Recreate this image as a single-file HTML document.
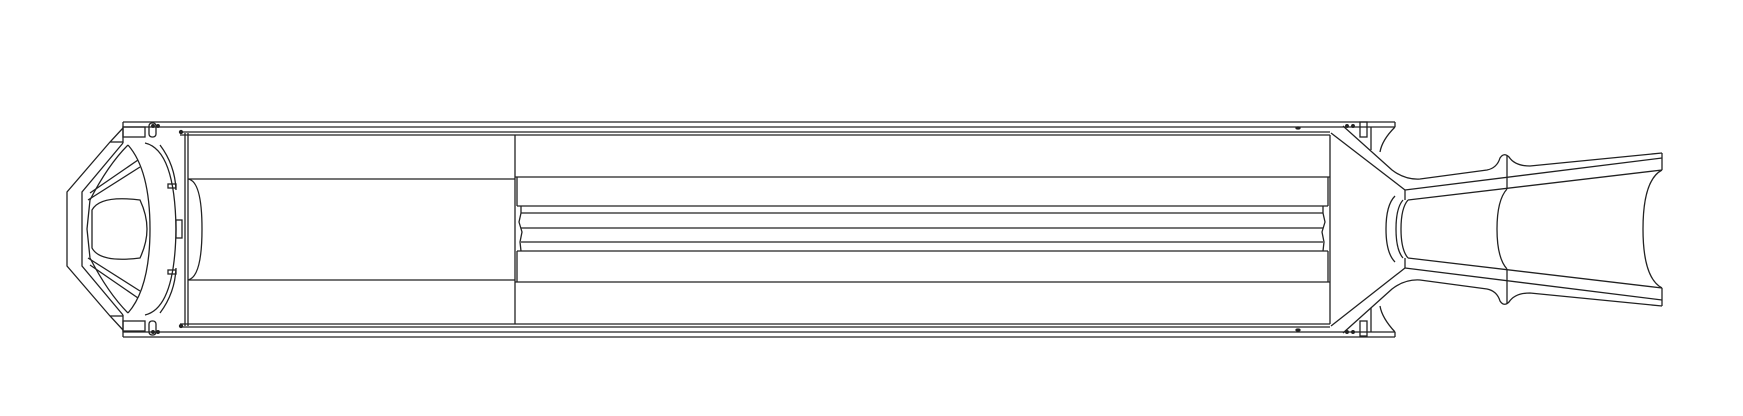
<!DOCTYPE html>
<html><head><style>html,body{margin:0;padding:0;background:#fff}svg{display:block}</style></head><body>
<svg width="1743" height="416" viewBox="0 0 1743 416" xmlns="http://www.w3.org/2000/svg" fill="none" stroke="#222" stroke-width="1.3">
<!-- outer shell -->
<line x1="123" y1="122" x2="1395" y2="122"/><line x1="123" y1="127" x2="1395" y2="127"/>
<line x1="123" y1="337" x2="1395" y2="337"/><line x1="123" y1="332" x2="1395" y2="332"/>
<line x1="123" y1="122" x2="123" y2="143"/><line x1="123" y1="315" x2="123" y2="337"/>
<line x1="1395" y1="122" x2="1395" y2="127"/><line x1="1395" y1="332" x2="1395" y2="337"/>
<!-- inner tube -->
<line x1="180" y1="132" x2="1330" y2="132"/><line x1="180" y1="135" x2="1330" y2="135"/>
<line x1="180" y1="324" x2="1330" y2="324"/><line x1="180" y1="327" x2="1330" y2="327"/>
<line x1="185" y1="133" x2="185" y2="326"/><line x1="188" y1="133" x2="188" y2="326"/>
<!-- left section -->
<line x1="188" y1="179" x2="515" y2="179"/><line x1="188" y1="280" x2="515" y2="280"/>
<path d="M188,179 Q202,181 202,229 Q202,277 188,280"/>
<line x1="515" y1="135" x2="515" y2="324"/>
<!-- middle bands -->
<line x1="515" y1="177" x2="1330" y2="177"/><line x1="515" y1="282" x2="1330" y2="282"/>
<line x1="517" y1="177" x2="517" y2="206"/><line x1="517" y1="251" x2="517" y2="282"/>
<line x1="1328" y1="177" x2="1328" y2="206"/><line x1="1328" y1="251" x2="1328" y2="282"/>
<line x1="517" y1="206" x2="1328" y2="206"/><line x1="517" y1="251" x2="1328" y2="251"/>
<line x1="521" y1="213" x2="1323" y2="213"/><line x1="521" y1="228" x2="1323" y2="228"/>
<line x1="521" y1="242" x2="1323" y2="242"/>
<path d="M521,206 L521,213 L519,222 L522,232 L520,242 L521,251"/>
<path d="M1323,206 L1323,213 L1325,222 L1322,232 L1324,242 L1323,251"/>
<line x1="1330" y1="135" x2="1330" y2="324"/>
<!-- left nose cone -->
<path d="M123,128 L110,142 L67,192 L67,266 L110,316 L123,330"/>
<line x1="110" y1="142" x2="123" y2="142"/><line x1="110" y1="316" x2="123" y2="316"/>
<path d="M123,143 L82,192 L82,266 L123,315"/>
<path d="M128,145 Q150,170 150,229 Q150,288 128,313"/>
<path d="M128,145 Q108,165 90,200 L87,229 L90,258 Q108,293 128,313"/>
<path d="M145,143 Q175,150 176,229 Q175,308 145,315"/>
<path d="M160,145 Q175,165 176,190"/><path d="M160,313 Q175,293 176,268"/>
<path d="M92,210 Q100,195 140,200 Q147,215 147,229 Q147,243 140,258 Q100,263 92,248 Z"/>
<path d="M88,200 L140,167"/><path d="M90,193 L138,160"/>
<path d="M88,258 L140,291"/><path d="M90,265 L138,298"/>
<rect x="168" y="184" width="8" height="4"/><rect x="168" y="270" width="8" height="4"/>
<rect x="176" y="220" width="6" height="18"/>
<rect x="123" y="127" width="22" height="10"/><rect x="123" y="321" width="22" height="10"/>
<rect x="149" y="123" width="7" height="14" rx="3"/><rect x="149" y="321" width="7" height="14" rx="3"/>
<circle cx="153" cy="126" r="1.3" fill="#222"/><circle cx="158" cy="126" r="1.3" fill="#222"/>
<circle cx="153" cy="332" r="1.3" fill="#222"/><circle cx="158" cy="332" r="1.3" fill="#222"/>
<circle cx="181" cy="132" r="1.5" fill="#222"/><circle cx="181" cy="326" r="1.5" fill="#222"/>
<!-- right end -->
<line x1="1331" y1="133" x2="1405" y2="190"/><line x1="1331" y1="326" x2="1405" y2="268"/>
<path d="M1343,126 L1392,170 Q1405,180 1420,179 L1487,170 Q1497,168 1500,158 Q1504,152 1509,157 Q1515,166 1530,166 L1662,153"/>
<path d="M1343,333 L1392,289 Q1405,279 1420,280 L1487,289 Q1497,291 1500,301 Q1504,307 1509,302 Q1515,293 1530,293 L1662,306"/>
<line x1="1405" y1="190" x2="1662" y2="158"/><line x1="1405" y1="268" x2="1662" y2="300"/>
<line x1="1408" y1="200" x2="1662" y2="170"/><line x1="1408" y1="258" x2="1662" y2="288"/>
<line x1="1405" y1="190" x2="1405" y2="200"/><line x1="1405" y1="258" x2="1405" y2="268"/>
<line x1="1662" y1="153" x2="1662" y2="170"/><line x1="1662" y1="288" x2="1662" y2="306"/>
<line x1="1507" y1="155" x2="1507" y2="189"/><line x1="1507" y1="269" x2="1507" y2="303"/>
<path d="M1662,170 Q1643,180 1643,229 Q1643,278 1662,288"/>
<path d="M1507,189 Q1497,200 1497,229 Q1497,258 1507,269"/>
<path d="M1395,196 Q1386,205 1386,229 Q1386,253 1395,262"/>
<path d="M1403,200 Q1396,208 1396,229 Q1396,250 1403,258"/>
<path d="M1408,200 Q1401,208 1401,229 Q1401,250 1408,258"/>
<path d="M1395,127 Q1382,140 1380,152"/><path d="M1395,332 Q1382,318 1380,306"/>
<line x1="1371" y1="127" x2="1371" y2="150"/><line x1="1371" y1="308" x2="1371" y2="332"/>
<rect x="1360" y="122" width="7" height="15"/><rect x="1360" y="321" width="7" height="15"/>
<circle cx="1347" cy="126" r="1.3" fill="#222"/><circle cx="1353" cy="126" r="1.3" fill="#222"/>
<circle cx="1347" cy="332" r="1.3" fill="#222"/><circle cx="1353" cy="332" r="1.3" fill="#222"/>
<ellipse cx="1298" cy="128" rx="2" ry="1" fill="#222"/><ellipse cx="1298" cy="330" rx="2" ry="1" fill="#222"/>
</svg>
</body></html>
